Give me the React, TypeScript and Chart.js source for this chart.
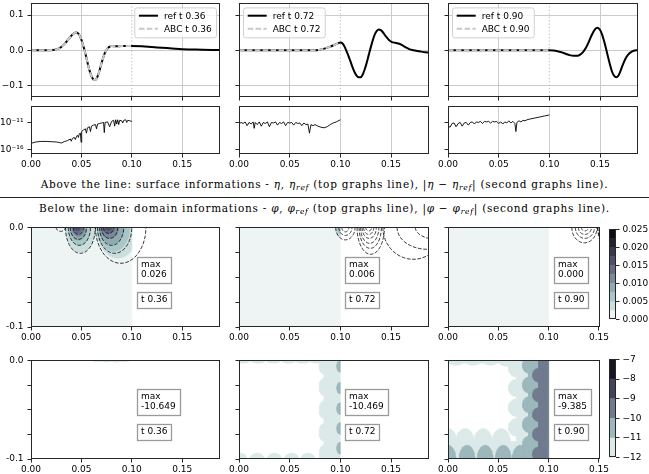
import React, { useEffect, useRef } from 'react';
import { Chart, registerables } from 'chart.js';

Chart.register(...registerables);

// ======================= DATA =======================
const T_LABELS = ['0.36', '0.72', '0.90'];
const MAX_PHI = ['0.026', '0.006', '0.000'];
const MAX_ERR = ['-10.649', '-10.469', '-9.385'];
const X_TICKS = [0, 0.05, 0.1, 0.15];
const ETA_TICKS = [-0.1, 0, 0.1];
const ERR_TICK_EXP = [-16, -11];
const DEPTH_TICKS = [0, -0.025, -0.05, -0.075, -0.1];
const PHI_LEVELS = [0, 0.0025, 0.005, 0.0075, 0.01, 0.0125, 0.015, 0.0175, 0.02, 0.0225, 0.025];
const PHI_CBAR_TICKS = [0, 0.005, 0.01, 0.015, 0.02, 0.025];
const ERR_LEVELS = [-12, -11, -10, -9, -8, -7];
const ABC_X_END = 0.1;
const X_END = 0.1875;
const X_END_NARROW = 0.151;
const ETA_LIM = 0.133;
const ERR_LIM_EXP = [-16.8, -7.9];
const DEPTH = -0.1;

// surface elevation eta (x, eta)
const REF1 = [[0, 0], [0.015, 0], [0.022, 0.0005], [0.026, 0.003], [0.03, 0.009], [0.034, 0.02], [0.038, 0.034], [0.041, 0.044], [0.0445, 0.05], [0.047, 0.047], [0.049, 0.037], [0.051, 0.021], [0.053, 0.001], [0.055, -0.022], [0.057, -0.046], [0.059, -0.066], [0.061, -0.08], [0.063, -0.085], [0.065, -0.081], [0.067, -0.067], [0.069, -0.047], [0.071, -0.027], [0.073, -0.01], [0.075, 0.001], [0.077, 0.008], [0.08, 0.012], [0.085, 0.011], [0.09, 0.012], [0.095, 0.012], [0.1, 0.012], [0.11, 0.011], [0.12, 0.009], [0.13, 0.007], [0.14, 0.005], [0.15, 0.003], [0.16, 0.002], [0.17, 0.001], [0.18, 0.0005], [0.1875, 0.0003]];
const ABC1 = [[0, 0], [0.015, 0], [0.022, 0.0005], [0.026, 0.003], [0.03, 0.009], [0.034, 0.02], [0.038, 0.034], [0.041, 0.044], [0.0445, 0.05], [0.047, 0.047], [0.049, 0.037], [0.051, 0.021], [0.053, 0.001], [0.055, -0.022], [0.057, -0.046], [0.059, -0.066], [0.061, -0.08], [0.063, -0.085], [0.065, -0.081], [0.067, -0.067], [0.069, -0.047], [0.071, -0.027], [0.073, -0.01], [0.075, 0.001], [0.077, 0.008], [0.08, 0.012], [0.085, 0.011], [0.09, 0.012], [0.095, 0.012], [0.1, 0.012]];
const REF2 = [[0, 0], [0.04, 0], [0.075, 0], [0.078, 0.0005], [0.082, 0.003], [0.086, 0.006], [0.09, 0.01], [0.094, 0.015], [0.098, 0.02], [0.1, 0.022], [0.102, 0.02], [0.104, 0.011], [0.106, -0.002], [0.108, -0.016], [0.11, -0.032], [0.112, -0.048], [0.114, -0.062], [0.116, -0.072], [0.118, -0.077], [0.12, -0.077], [0.122, -0.07], [0.124, -0.055], [0.126, -0.036], [0.128, -0.014], [0.13, 0.008], [0.132, 0.028], [0.134, 0.045], [0.136, 0.055], [0.138, 0.059], [0.14, 0.057], [0.142, 0.051], [0.145, 0.039], [0.148, 0.029], [0.151, 0.023], [0.154, 0.021], [0.157, 0.019], [0.16, 0.016], [0.164, 0.009], [0.168, 0.003], [0.172, 0], [0.178, -0.003], [0.184, -0.006], [0.1875, -0.007]];
const ABC2 = [[0, 0], [0.04, 0], [0.075, 0], [0.078, 0.0005], [0.082, 0.003], [0.086, 0.006], [0.09, 0.01], [0.094, 0.015], [0.098, 0.02], [0.1, 0.022]];
const REF3 = [[0, 0], [0.05, 0], [0.1, 0], [0.104, -0.001], [0.108, -0.003], [0.112, -0.006], [0.116, -0.01], [0.12, -0.014], [0.124, -0.016], [0.127, -0.016], [0.13, -0.013], [0.133, -0.006], [0.136, 0.006], [0.139, 0.024], [0.142, 0.044], [0.145, 0.059], [0.1475, 0.064], [0.15, 0.058], [0.152, 0.045], [0.154, 0.026], [0.156, 0.004], [0.158, -0.02], [0.16, -0.043], [0.162, -0.062], [0.164, -0.073], [0.166, -0.077], [0.168, -0.073], [0.17, -0.061], [0.172, -0.045], [0.175, -0.025], [0.178, -0.012], [0.181, -0.005], [0.184, -0.001], [0.1875, 0]];
const ABC3 = [[0, 0], [0.05, 0], [0.1, 0]];

// |eta - eta_ref| as (x, log10 value)
const ERR1 = [[0, -14.8], [0.005, -14.55], [0.01, -14.45], [0.015, -14.45], [0.02, -14.5], [0.025, -14.55], [0.028, -14.65], [0.03, -14.75], [0.033, -14.5], [0.036, -14.3], [0.039, -14.0], [0.04, -14.4], [0.041, -13.9], [0.043, -13.7], [0.044, -14.1], [0.045, -13.6], [0.046, -13.3], [0.047, -13.7], [0.048, -13.0], [0.049, -12.9], [0.0497, -14.6], [0.0503, -12.6], [0.052, -12.3], [0.054, -12.1], [0.055, -12.9], [0.056, -11.9], [0.058, -11.7], [0.059, -12.6], [0.06, -11.6], [0.062, -11.4], [0.064, -11.3], [0.065, -12.1], [0.066, -11.2], [0.068, -11.1], [0.07, -11.0], [0.072, -10.9], [0.0727, -12.8], [0.0735, -10.9], [0.076, -10.8], [0.078, -11.7], [0.08, -10.7], [0.082, -10.5], [0.083, -11.6], [0.084, -10.4], [0.085, -11.2], [0.086, -10.4], [0.087, -11.3], [0.088, -10.5], [0.09, -10.6], [0.091, -11.0], [0.092, -10.5], [0.094, -10.4], [0.095, -10.9], [0.096, -10.5], [0.098, -10.6], [0.1, -10.7]];
const ERR2 = [[0, -11.2], [0.002, -10.9], [0.004, -11.1], [0.006, -10.8], [0.008, -11.5], [0.01, -10.9], [0.012, -11.2], [0.014, -10.8], [0.015, -12.0], [0.016, -10.9], [0.018, -11.3], [0.02, -10.8], [0.022, -11.6], [0.024, -10.9], [0.026, -11.1], [0.028, -10.8], [0.03, -11.7], [0.032, -10.9], [0.034, -11.0], [0.036, -10.8], [0.038, -11.4], [0.04, -10.9], [0.042, -11.1], [0.044, -10.8], [0.046, -11.5], [0.048, -10.9], [0.05, -11.0], [0.052, -10.9], [0.054, -11.4], [0.056, -10.9], [0.058, -11.1], [0.06, -11.0], [0.062, -11.5], [0.064, -11.0], [0.066, -11.3], [0.068, -11.2], [0.0695, -12.9], [0.071, -11.3], [0.073, -11.5], [0.075, -11.3], [0.078, -11.6], [0.081, -11.8], [0.084, -11.9], [0.087, -11.7], [0.09, -11.3], [0.093, -11.0], [0.096, -10.8], [0.1, -10.4]];
const ERR3 = [[0, -11.5], [0.002, -11.8], [0.004, -11.1], [0.006, -11.0], [0.008, -11.7], [0.01, -11.1], [0.012, -10.9], [0.014, -11.6], [0.016, -11.0], [0.018, -10.9], [0.02, -11.4], [0.022, -10.9], [0.024, -10.8], [0.026, -11.2], [0.028, -10.8], [0.03, -10.9], [0.032, -10.7], [0.034, -11.1], [0.036, -10.7], [0.038, -10.8], [0.04, -10.7], [0.042, -11.0], [0.044, -10.7], [0.046, -10.8], [0.048, -10.7], [0.05, -11.1], [0.052, -10.8], [0.054, -11.2], [0.056, -10.8], [0.058, -11.0], [0.06, -10.6], [0.062, -11.0], [0.064, -10.7], [0.066, -11.1], [0.067, -12.6], [0.068, -10.9], [0.07, -10.6], [0.072, -10.8], [0.074, -10.5], [0.076, -10.6], [0.078, -10.4], [0.08, -10.3], [0.085, -10.1], [0.09, -9.9], [0.095, -9.7], [0.1, -9.5]];

// phi field: filled bands of the ABC solution. rect = [band, x0, y0, x1, y1], ellipse = [band, cx, cy, rx, ry]
const PHI_RECT_1 = [[0, 0, -0.1, 0.1, 0]];
const PHI_ELL_1 = [[1, 0.049, 0, 0.0145, 0.025], [2, 0.048, 0, 0.011, 0.018], [3, 0.047, 0, 0.0085, 0.013], [4, 0.047, 0, 0.0065, 0.009], [5, 0.046, 0, 0.0045, 0.006], [6, 0.046, 0, 0.003, 0.003], [1, 0.086, 0, 0.021, 0.031], [2, 0.082, 0, 0.016, 0.024], [3, 0.08, 0, 0.012, 0.017], [4, 0.078, 0, 0.009, 0.011], [5, 0.077, 0, 0.006, 0.006], [6, 0.077, 0, 0.003, 0.003]];
const PHI_RECT_2 = [[0, 0, -0.1, 0.1, 0]];
const PHI_ELL_2 = [[1, 0.1, 0, 0.005, 0.01], [2, 0.1, 0, 0.003, 0.006]];
const PHI_RECT_3 = [[0, 0, -0.1, 0.1, 0]];
const PHI_ELL_3: number[][] = [];
// reference phi contour loops hanging from the surface: [cx, rx, depth]
const PHI_LOOPS_1 = [[0.0295, 0.0045, 0.004], [0.049, 0.0148, 0.026], [0.048, 0.011, 0.018], [0.047, 0.008, 0.012], [0.047, 0.005, 0.007], [0.089, 0.025, 0.036], [0.083, 0.017, 0.026], [0.08, 0.012, 0.018], [0.078, 0.008, 0.011], [0.077, 0.005, 0.006]];
const PHI_LOOPS_2 = [[0.105, 0.0095, 0.0125], [0.105, 0.0065, 0.008], [0.105, 0.0035, 0.0045], [0.13, 0.0135, 0.027], [0.1295, 0.011, 0.021], [0.129, 0.009, 0.016], [0.1285, 0.007, 0.011], [0.128, 0.005, 0.007], [0.128, 0.003, 0.0035], [0.172, 0.03, 0.032], [0.186, 0.03, 0.022], [0.196, 0.022, 0.012]];
const PHI_LOOPS_3 = [[0.1355, 0.0125, 0.0155], [0.136, 0.0095, 0.011], [0.136, 0.0065, 0.007], [0.136, 0.0035, 0.0035], [0.156, 0.0075, 0.013], [0.156, 0.0055, 0.009], [0.156, 0.0035, 0.005], [0.176, 0.027, 0.036]];

// log10 |phi - phi_ref| bands
const ERRF_RECT_1: number[][] = [];
const ERRF_ELL_1 = [[0, 0.066, 0, 0.005, 0.0015], [0, 0.075, 0, 0.005, 0.0018], [0, 0.084, 0, 0.005, 0.0018], [0, 0.093, 0, 0.005, 0.0015]];
const ERRF_RECT_2 = [[0, 0.084, -0.1, 0.1, 0]];
const ERRF_ELL_2 = [[0, 0.084, -0.005, 0.005, 0.009], [0, 0.084, -0.027, 0.005, 0.009], [0, 0.084, -0.05, 0.005, 0.009], [0, 0.084, -0.073, 0.005, 0.009], [0, 0.084, -0.095, 0.005, 0.009], [0, 0.001, -0.1, 0.007, 0.006], [0, 0.018, -0.1, 0.007, 0.006], [0, 0.035, -0.1, 0.007, 0.006], [0, 0.052, -0.1, 0.007, 0.006], [0, 0.068, -0.1, 0.007, 0.006], [0, 0.004, 0, 0.007, 0.003], [0, 0.019, 0, 0.007, 0.003], [0, 0.034, 0, 0.007, 0.003], [0, 0.049, 0, 0.007, 0.003], [0, 0.063, 0, 0.007, 0.003], [0, 0.076, 0, 0.006, 0.003], [1, 0.1, -0.006, 0.0035, 0.006], [1, 0.1, -0.028, 0.0035, 0.006], [1, 0.1, -0.049, 0.0035, 0.006], [1, 0.1, -0.069, 0.0035, 0.006], [1, 0.1, -0.089, 0.0035, 0.006]];
const ERRF_RECT_3 = [[0, 0, -0.1, 0.1, -0.082], [0, 0.068, -0.1, 0.1, 0], [0, 0, -0.003, 0.1, 0], [1, 0.08, -0.1, 0.1, 0], [2, 0.09, -0.1, 0.1, 0]];
const ERRF_ELL_3 = [[0, 0, -0.082, 0.009, 0.013], [0, 0.017, -0.082, 0.009, 0.013], [0, 0.035, -0.082, 0.009, 0.013], [0, 0.053, -0.082, 0.009, 0.013], [0, 0.068, -0.008, 0.008, 0.009], [0, 0.068, -0.028, 0.008, 0.009], [0, 0.068, -0.048, 0.008, 0.009], [0, 0.068, -0.068, 0.008, 0.009], [0, 0.008, 0, 0.008, 0.005], [0, 0.025, 0, 0.008, 0.005], [0, 0.042, 0, 0.008, 0.005], [0, 0.058, 0, 0.008, 0.006], [1, 0, -0.1, 0.008, 0.014], [1, 0.019, -0.1, 0.008, 0.014], [1, 0.037, -0.1, 0.008, 0.014], [1, 0.055, -0.1, 0.008, 0.014], [1, 0.072, -0.1, 0.008, 0.014], [1, 0.08, -0.005, 0.006, 0.008], [1, 0.08, -0.025, 0.006, 0.008], [1, 0.08, -0.045, 0.006, 0.008], [1, 0.08, -0.065, 0.006, 0.008], [1, 0.08, -0.085, 0.006, 0.008], [2, 0.09, -0.015, 0.006, 0.007], [2, 0.09, -0.035, 0.006, 0.007], [2, 0.09, -0.055, 0.006, 0.007], [2, 0.09, -0.075, 0.006, 0.007], [2, 0.09, -0.095, 0.006, 0.007]];

// ======================= STYLE / HELPERS =======================
const FONT = '"DejaVu Sans", sans-serif';
const FRAME = '#262626';
const GRID = '#cbcbcb';
Chart.defaults.font.family = FONT;
Chart.defaults.font.size = 9;
Chart.defaults.color = '#000';

const BONE: Record<string, number[][]> = {
  r: [[0, 0], [0.746032, 0.652778], [1, 1]],
  g: [[0, 0], [0.365079, 0.319444], [0.746032, 0.777778], [1, 1]],
  b: [[0, 0], [0.365079, 0.444444], [1, 1]],
};
function seg(pts: number[][], v: number) {
  for (let i = 1; i < pts.length; i++) {
    if (v <= pts[i][0]) {
      const [x0, y0] = pts[i - 1];
      const [x1, y1] = pts[i];
      return y0 + ((v - x0) / (x1 - x0)) * (y1 - y0);
    }
  }
  return pts[pts.length - 1][1];
}
function bone(v: number) {
  const c = ['r', 'g', 'b'].map((k) => Math.round(seg(BONE[k], v) * 255));
  return `rgb(${c[0]},${c[1]},${c[2]})`;
}
const bandColor = (k: number, n: number) => bone(1 - (k + 0.5) / n);

const toPts = (arr: number[][]) => arr.map(([x, y]) => ({ x, y }));
const toLogPts = (arr: number[][]) => arr.map(([x, e]) => ({ x, y: Math.pow(10, e) }));

function ellipsePoly(cx: number, cy: number, rx: number, ry: number, xMax: number) {
  const pts = [];
  const N = 56;
  for (let i = 0; i <= N; i++) {
    const t = (i / N) * Math.PI * 2;
    const x = Math.min(Math.max(cx + rx * Math.cos(t), 0), xMax);
    const y = Math.min(Math.max(cy + ry * Math.sin(t), DEPTH), 0);
    pts.push({ x, y });
  }
  return pts;
}
function rectPoly(x0: number, y0: number, x1: number, y1: number) {
  return [{ x: x0, y: y0 }, { x: x1, y: y0 }, { x: x1, y: y1 }, { x: x0, y: y1 }, { x: x0, y: y0 }];
}
function hangingArc(cx: number, rx: number, d: number) {
  const pts = [];
  const N = 48;
  for (let i = 0; i <= N; i++) {
    const t = (i / N) * Math.PI;
    pts.push({ x: cx - rx * Math.cos(t), y: -d * Math.sin(t) });
  }
  return pts;
}

type Margin = { l: number; t: number; r: number; b: number };
type Box = { l: number; t: number; r: number; b: number };

const framePlugin = {
  id: 'frame',
  afterDatasetsDraw(chart: any) {
    const { ctx, chartArea: a } = chart;
    ctx.save();
    ctx.strokeStyle = FRAME;
    ctx.lineWidth = 1;
    ctx.strokeRect(Math.round(a.left) + 0.5, Math.round(a.top) + 0.5, Math.round(a.right - a.left) - 1, Math.round(a.bottom - a.top) - 1);
    ctx.restore();
  },
};

function legendPlugin(corner: 'ul' | 'ur', t: string) {
  return {
    id: 'innerLegend',
    afterDraw(chart: any) {
      const { ctx, chartArea: a } = chart;
      ctx.save();
      ctx.font = `9px ${FONT}`;
      const labels = ['ref t ' + t, 'ABC t ' + t];
      const tw = Math.max(...labels.map((l) => ctx.measureText(l).width));
      const w = 29.7 + tw + 4.3;
      const h = 30;
      const x = corner === 'ur' ? a.right - 4 - w : a.left + 4;
      const y = a.top + 4;
      ctx.beginPath();
      ctx.roundRect(x + 0.5, y + 0.5, w, h, 2.5);
      ctx.fillStyle = 'rgba(255,255,255,0.8)';
      ctx.fill();
      ctx.strokeStyle = '#d0d0d0';
      ctx.lineWidth = 1;
      ctx.stroke();
      labels.forEach((lab, i) => {
        const cy = y + 8.3 + i * 13;
        ctx.beginPath();
        ctx.moveTo(x + 4.7, cy);
        ctx.lineTo(x + 23.7, cy);
        ctx.lineWidth = 2;
        if (i === 0) {
          ctx.strokeStyle = '#000';
          ctx.setLineDash([]);
        } else {
          ctx.strokeStyle = '#c8c8c8';
          ctx.setLineDash([5.5, 2.4]);
        }
        ctx.stroke();
        ctx.setLineDash([]);
        ctx.fillStyle = '#000';
        ctx.textBaseline = 'middle';
        ctx.textAlign = 'left';
        ctx.fillText(lab, x + 29.7, cy + 0.5);
      });
      ctx.restore();
    },
  };
}

function boxesPlugin(boxes: { x: number; y: number; lines: string[] }[]) {
  return {
    id: 'textBoxes',
    afterDraw(chart: any) {
      const { ctx } = chart;
      const sx = chart.scales.x;
      const sy = chart.scales.y;
      ctx.save();
      ctx.font = `9px ${FONT}`;
      boxes.forEach((b) => {
        const px = Math.round(sx.getPixelForValue(b.x));
        const py = Math.round(sy.getPixelForValue(b.y));
        const tw = Math.max(...b.lines.map((l) => ctx.measureText(l).width));
        const w = Math.round(tw + 8);
        const h = Math.round(b.lines.length * 10 + 5.6);
        ctx.fillStyle = '#fff';
        ctx.fillRect(px, py, w, h);
        ctx.strokeStyle = '#9a9a9a';
        ctx.lineWidth = 1.3;
        ctx.strokeRect(px + 0.5, py + 0.5, w, h);
        ctx.fillStyle = '#000';
        ctx.textBaseline = 'middle';
        ctx.textAlign = 'left';
        b.lines.forEach((l, i) => ctx.fillText(l, px + 4, py + 3 + 5 + i * 10));
      });
      ctx.restore();
    },
  };
}

function baseOptions(m: Margin) {
  return {
    animation: false,
    responsive: false,
    maintainAspectRatio: false,
    devicePixelRatio: 1,
    events: [] as string[],
    layout: { padding: { top: m.t, right: m.r, bottom: 0, left: 0 }, autoPadding: false },
    plugins: { legend: { display: false }, tooltip: { enabled: false } },
  };
}

function xScale(xMax: number, showLabels: boolean, gridOnArea: boolean, skipBoundary: boolean, m: Margin) {
  return {
    type: 'linear',
    min: 0,
    max: xMax,
    afterBuildTicks: (s: any) => {
      s.ticks = X_TICKS.filter((v) => v <= xMax + 1e-9).map((v) => ({ value: v }));
    },
    afterFit: (s: any) => {
      s.height = m.b;
    },
    ticks: { callback: (v: any) => (showLabels ? Number(v).toFixed(2) : ''), padding: 2, maxRotation: 0, autoSkip: false, color: '#000' },
    grid: {
      drawOnChartArea: gridOnArea,
      color: (c: any) => (skipBoundary && c.tick && Math.abs(c.tick.value - ABC_X_END) < 1e-9 ? 'rgba(0,0,0,0)' : GRID),
      lineWidth: 1,
      tickColor: FRAME,
      tickLength: 3.5,
      tickWidth: 1,
    },
    border: { display: false },
  };
}

const fmtSigned = (v: number, d: number) => (v < 0 ? '\u2212' : '') + Math.abs(v).toFixed(d);
const SUP: Record<string, string> = { '-': '\u207B', '0': '\u2070', '1': '\u00B9', '2': '\u00B2', '3': '\u00B3', '4': '\u2074', '5': '\u2075', '6': '\u2076', '7': '\u2077', '8': '\u2078', '9': '\u2079' };
const sup = (n: number) => String(n).split('').map((c) => SUP[c]).join('');

function etaConfig(i: number, m: Margin) {
  const ref = [REF1, REF2, REF3][i];
  const abc = [ABC1, ABC2, ABC3][i];
  return {
    type: 'line',
    data: {
      datasets: [
        { data: toPts(abc), borderColor: '#c8c8c8', borderWidth: 2, borderDash: [5.5, 2.4], pointRadius: 0, cubicInterpolationMode: 'monotone', fill: false, order: 1 },
        { data: toPts(ref), borderColor: '#000', borderWidth: 2, pointRadius: 0, cubicInterpolationMode: 'monotone', fill: false, order: 2 },
        { data: [{ x: ABC_X_END, y: -1 }, { x: ABC_X_END, y: 1 }], borderColor: '#b5b5b5', borderWidth: 1, borderDash: [1.2, 2.2], pointRadius: 0, fill: false, order: 3 },
      ],
    },
    options: {
      ...baseOptions(m),
      scales: {
        x: xScale(X_END, false, true, true, m),
        y: {
          type: 'linear',
          min: -ETA_LIM,
          max: ETA_LIM,
          afterBuildTicks: (s: any) => {
            s.ticks = ETA_TICKS.map((v) => ({ value: v }));
          },
          afterFit: (s: any) => {
            s.width = m.l;
          },
          ticks: { callback: (v: any) => (i === 0 ? fmtSigned(Number(v), 1) : ''), padding: 4, color: '#000' },
          grid: { drawOnChartArea: true, color: GRID, lineWidth: 1, tickColor: FRAME, tickLength: 3.5 },
          border: { display: false },
        },
      },
    },
    plugins: [framePlugin, legendPlugin(i === 0 ? 'ur' : 'ul', T_LABELS[i])],
  };
}

function errConfig(i: number, m: Margin) {
  const err = [ERR1, ERR2, ERR3][i];
  return {
    type: 'line',
    data: {
      datasets: [{ data: toLogPts(err), borderColor: '#000', borderWidth: 0.9, pointRadius: 0, fill: false, tension: 0 }],
    },
    options: {
      ...baseOptions(m),
      scales: {
        x: xScale(X_END, true, true, false, m),
        y: {
          type: 'logarithmic',
          min: Math.pow(10, ERR_LIM_EXP[0]),
          max: Math.pow(10, ERR_LIM_EXP[1]),
          afterBuildTicks: (s: any) => {
            s.ticks = ERR_TICK_EXP.map((e) => ({ value: Math.pow(10, e) }));
          },
          afterFit: (s: any) => {
            s.width = m.l;
          },
          ticks: { callback: (v: any) => (i === 0 ? '10' + sup(Math.round(Math.log10(Number(v)))) : ''), padding: 4, color: '#000', autoSkip: false },
          grid: { drawOnChartArea: false, tickColor: FRAME, tickLength: 3.5 },
          border: { display: false },
        },
      },
    },
    plugins: [framePlugin],
  };
}

function fieldConfig(i: number, kind: 'phi' | 'err', m: Margin) {
  const narrow = i === 2;
  const xMax = narrow ? X_END_NARROW : X_END;
  const rects = kind === 'phi' ? [PHI_RECT_1, PHI_RECT_2, PHI_RECT_3][i] : [ERRF_RECT_1, ERRF_RECT_2, ERRF_RECT_3][i];
  const ells = kind === 'phi' ? [PHI_ELL_1, PHI_ELL_2, PHI_ELL_3][i] : [ERRF_ELL_1, ERRF_ELL_2, ERRF_ELL_3][i];
  const loops = kind === 'phi' ? [PHI_LOOPS_1, PHI_LOOPS_2, PHI_LOOPS_3][i] : [];
  const nBands = kind === 'phi' ? PHI_LEVELS.length - 1 : ERR_LEVELS.length - 1;
  const shapes: { band: number; pts: any[] }[] = [];
  rects.forEach(([b, x0, y0, x1, y1]) => shapes.push({ band: b, pts: rectPoly(x0, y0, x1, y1) }));
  ells.forEach(([b, cx, cy, rx, ry]) => shapes.push({ band: b, pts: ellipsePoly(cx, cy, rx, ry, ABC_X_END) }));
  shapes.sort((a, b) => a.band - b.band);
  const datasets: any[] = [];
  shapes.forEach((s) => {
    const col = bandColor(s.band, nBands);
    datasets.push({ data: s.pts, borderColor: col, borderWidth: 0.5, backgroundColor: col, fill: 'shape', pointRadius: 0, tension: 0 });
  });
  loops.forEach(([cx, rx, d]) => {
    datasets.push({ data: hangingArc(cx, rx, d), borderColor: 'rgba(0,0,0,0.9)', borderWidth: 0.9, borderDash: [3.7, 1.6], fill: false, pointRadius: 0, tension: 0 });
  });
  datasets.forEach((d, k) => {
    d.order = -k;
  });
  const maxTxt = kind === 'phi' ? MAX_PHI[i] : MAX_ERR[i];
  return {
    type: 'line',
    data: { datasets },
    options: {
      ...baseOptions(m),
      scales: {
        x: xScale(xMax, true, false, false, m),
        y: {
          type: 'linear',
          min: DEPTH,
          max: 0,
          afterBuildTicks: (s: any) => {
            s.ticks = DEPTH_TICKS.map((v) => ({ value: v }));
          },
          afterFit: (s: any) => {
            s.width = m.l;
          },
          ticks: {
            callback: (v: any) => {
              if (i !== 0) return '';
              const n = Number(v);
              if (Math.abs(n) < 1e-9) return '0.0';
              if (Math.abs(n - DEPTH) < 1e-9) return '-0.1';
              return '';
            },
            padding: 4,
            color: '#000',
            autoSkip: false,
          },
          grid: { drawOnChartArea: false, tickColor: FRAME, tickLength: 3.5 },
          border: { display: false },
        },
      },
    },
    plugins: [
      framePlugin,
      boxesPlugin([
        { x: 0.105, y: -0.0295, lines: ['max', maxTxt] },
        { x: 0.105, y: -0.0645, lines: ['t ' + T_LABELS[i]] },
      ]),
    ],
  };
}

function cbarConfig(levels: number[], ticks: number[], fmt: (v: number) => string, m: Margin) {
  const n = levels.length - 1;
  const datasets = levels.slice(0, -1).map((lo, k) => ({
    data: [[lo, levels[k + 1]]],
    backgroundColor: bandColor(k, n),
    borderWidth: 0,
    barPercentage: 1,
    categoryPercentage: 1,
    grouped: false,
  }));
  return {
    type: 'bar',
    data: { labels: [''], datasets },
    options: {
      animation: false,
      responsive: false,
      maintainAspectRatio: false,
      devicePixelRatio: 1,
      events: [] as string[],
      layout: { padding: { top: m.t, right: 0, bottom: m.b, left: 0 }, autoPadding: false },
      plugins: { legend: { display: false }, tooltip: { enabled: false } },
      scales: {
        x: { display: false },
        y: {
          position: 'right',
          min: levels[0],
          max: levels[levels.length - 1],
          afterBuildTicks: (s: any) => {
            s.ticks = ticks.map((v) => ({ value: v }));
          },
          afterFit: (s: any) => {
            s.width = m.r;
          },
          ticks: { callback: (v: any) => fmt(Number(v)), padding: 3, color: '#000', autoSkip: false },
          grid: { drawOnChartArea: false, tickColor: FRAME, tickLength: 3.5 },
          border: { display: false },
        },
      },
    },
    plugins: [framePlugin],
  };
}

// ======================= LAYOUT =======================
const PANEL_X = [[31, 220], [239, 429], [448, 638]];
const FIELD_X3_RIGHT = 600;
const ROW_A = [2, 97];
const ROW_B = [105, 154];
const ROW_C = [226, 327];
const ROW_D = [359, 459];
const M: Margin = { l: 34, t: 8, r: 14, b: 20 };
const MC: Margin = { l: 0, t: 8, r: 36, b: 8 };

type Spec = { left: number; top: number; width: number; height: number; make: () => any };
function place(box: Box, m: Margin, make: () => any): Spec {
  return { left: box.l - m.l, top: box.t - m.t, width: box.r - box.l + m.l + m.r, height: box.b - box.t + m.t + m.b, make };
}

const SPECS: Spec[] = [];
[0, 1, 2].forEach((i) => {
  const [l, r] = PANEL_X[i];
  SPECS.push(place({ l, r, t: ROW_A[0], b: ROW_A[1] }, M, () => etaConfig(i, M)));
  SPECS.push(place({ l, r, t: ROW_B[0], b: ROW_B[1] }, M, () => errConfig(i, M)));
  const rf = i === 2 ? FIELD_X3_RIGHT : r;
  SPECS.push(place({ l, r: rf, t: ROW_C[0], b: ROW_C[1] }, M, () => fieldConfig(i, 'phi', M)));
  SPECS.push(place({ l, r: rf, t: ROW_D[0], b: ROW_D[1] }, M, () => fieldConfig(i, 'err', M)));
});
SPECS.push(place({ l: 609, r: 616, t: 229, b: 320 }, MC, () => cbarConfig(PHI_LEVELS, PHI_CBAR_TICKS, (v) => v.toFixed(3), MC)));
SPECS.push(place({ l: 609, r: 616, t: 359, b: 458 }, MC, () => cbarConfig(ERR_LEVELS, ERR_LEVELS, (v) => fmtSigned(v, 0), MC)));

function ChartCanvas({ spec }: { spec: Spec }) {
  const ref = useRef<HTMLCanvasElement | null>(null);
  useEffect(() => {
    if (!ref.current) return;
    const chart = new Chart(ref.current, spec.make());
    return () => chart.destroy();
  }, [spec]);
  return (
    <canvas
      ref={ref}
      width={spec.width}
      height={spec.height}
      style={{ position: 'absolute', left: spec.left, top: spec.top, width: spec.width, height: spec.height }}
    />
  );
}

const subStyle: React.CSSProperties = { fontSize: '0.72em', position: 'relative', top: '0.3em', fontStyle: 'italic' };
const textStyle: React.CSSProperties = {
  position: 'absolute',
  left: 0,
  width: 649,
  textAlign: 'center',
  fontFamily: '"DejaVu Serif", serif',
  fontSize: 10.5,
  letterSpacing: '0.75px',
  lineHeight: '12px',
  whiteSpace: 'nowrap',
  color: '#000',
};

export default function App() {
  return (
    <div style={{ position: 'fixed', left: 0, top: 0, width: 649, height: 474, overflow: 'hidden', background: '#fff' }}>
      {SPECS.map((s, i) => (
        <ChartCanvas key={i} spec={s} />
      ))}
      <div style={{ ...textStyle, top: 178 }}>
        Above the line: surface informations - <i>η</i>, <i>η</i>
        <span style={subStyle}>ref</span> (top graphs line), |<i>η</i> − <i>η</i>
        <span style={subStyle}>ref</span>| (second graphs line).
      </div>
      <div style={{ position: 'absolute', left: 0, top: 197, width: 649, height: 1.4, background: '#222' }} />
      <div style={{ ...textStyle, top: 202 }}>
        Below the line: domain informations - <i>φ</i>, <i>φ</i>
        <span style={subStyle}>ref</span> (top graphs line), |<i>φ</i> − <i>φ</i>
        <span style={subStyle}>ref</span>| (second graphs line).
      </div>
    </div>
  );
}
